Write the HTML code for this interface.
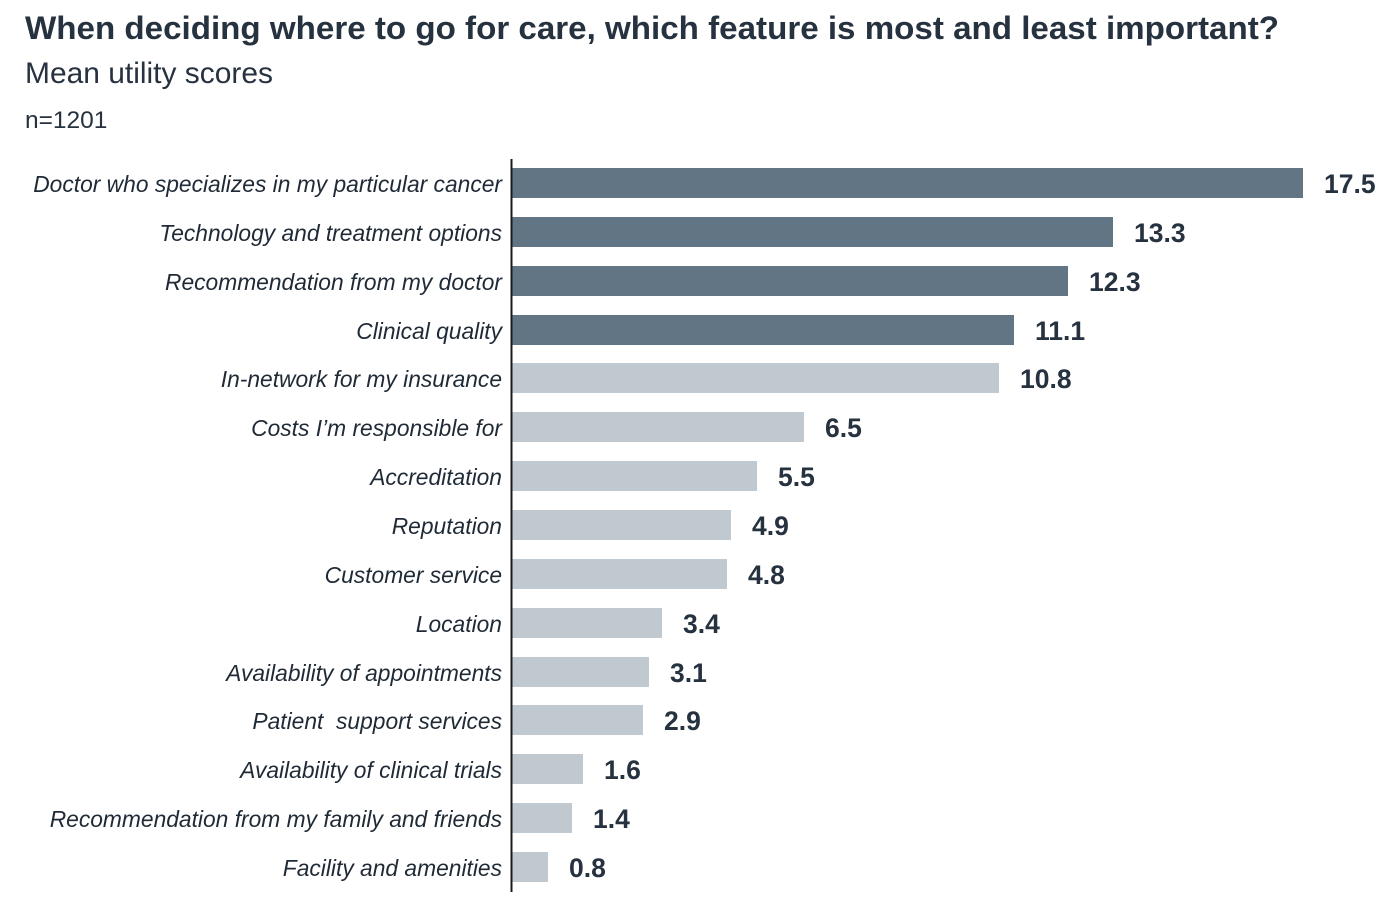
<!DOCTYPE html>
<html>
<head>
<meta charset="utf-8">
<style>
html,body{margin:0;padding:0;background:#fff;}
svg{display:block;}
text{font-family:"Liberation Sans",Arial,sans-serif;}
.t{font-weight:bold;fill:#26323f;}
.s{fill:#26323f;}
.l{font-style:italic;fill:#1f2a36;font-size:22.8px;}
.v{font-weight:bold;fill:#26323f;font-size:26.5px;}
.d{fill:#627584;}
.g{fill:#bfc9cf;}
</style>
</head>
<body>
<svg width="1400" height="908" viewBox="0 0 1400 908" xmlns="http://www.w3.org/2000/svg">
<text class="t" x="25" y="39" font-size="32" textLength="1254" lengthAdjust="spacingAndGlyphs">When deciding where to go for care, which feature is most and least important?</text>
<text class="s" x="25" y="83" font-size="30" textLength="248" lengthAdjust="spacingAndGlyphs">Mean utility scores</text>
<text class="s" x="25" y="128" font-size="24.5">n=1201</text>

<!-- bars -->
<rect class="d" x="512" y="168" width="791" height="30"/>
<rect class="d" x="512" y="217" width="601" height="30"/>
<rect class="d" x="512" y="266" width="556" height="30"/>
<rect class="d" x="512" y="315" width="502" height="30"/>
<rect class="g" x="512" y="363" width="487" height="30"/>
<rect class="g" x="512" y="412" width="292" height="30"/>
<rect class="g" x="512" y="461" width="245" height="30"/>
<rect class="g" x="512" y="510" width="219" height="30"/>
<rect class="g" x="512" y="559" width="215" height="30"/>
<rect class="g" x="512" y="608" width="150" height="30"/>
<rect class="g" x="512" y="657" width="137" height="30"/>
<rect class="g" x="512" y="705" width="131" height="30"/>
<rect class="g" x="512" y="754" width="71" height="30"/>
<rect class="g" x="512" y="803" width="60" height="30"/>
<rect class="g" x="512" y="852" width="36" height="30"/>

<!-- axis -->
<rect x="510.5" y="159" width="2" height="733" fill="#1b1b1b"/>

<!-- labels -->
<text class="l" x="502" y="192" text-anchor="end">Doctor who specializes in my particular cancer</text>
<text class="l" x="502" y="241" text-anchor="end">Technology and treatment options</text>
<text class="l" x="502" y="290" text-anchor="end">Recommendation from my doctor</text>
<text class="l" x="502" y="339" text-anchor="end">Clinical quality</text>
<text class="l" x="502" y="387" text-anchor="end">In-network for my insurance</text>
<text class="l" x="502" y="436" text-anchor="end">Costs I’m responsible for</text>
<text class="l" x="502" y="485" text-anchor="end">Accreditation</text>
<text class="l" x="502" y="534" text-anchor="end">Reputation</text>
<text class="l" x="502" y="583" text-anchor="end">Customer service</text>
<text class="l" x="502" y="632" text-anchor="end">Location</text>
<text class="l" x="502" y="681" text-anchor="end">Availability of appointments</text>
<text class="l" x="502" y="729" text-anchor="end">Patient&#160; support services</text>
<text class="l" x="502" y="778" text-anchor="end">Availability of clinical trials</text>
<text class="l" x="502" y="827" text-anchor="end">Recommendation from my family and friends</text>
<text class="l" x="502" y="876" text-anchor="end">Facility and amenities</text>

<!-- values -->
<text class="v" x="1324" y="193">17.5</text>
<text class="v" x="1134" y="242">13.3</text>
<text class="v" x="1089" y="291">12.3</text>
<text class="v" x="1035" y="340">11.1</text>
<text class="v" x="1020" y="388">10.8</text>
<text class="v" x="825" y="437">6.5</text>
<text class="v" x="778" y="486">5.5</text>
<text class="v" x="752" y="535">4.9</text>
<text class="v" x="748" y="584">4.8</text>
<text class="v" x="683" y="633">3.4</text>
<text class="v" x="670" y="682">3.1</text>
<text class="v" x="664" y="730">2.9</text>
<text class="v" x="604" y="779">1.6</text>
<text class="v" x="593" y="828">1.4</text>
<text class="v" x="569" y="877">0.8</text>
</svg>
</body>
</html>
